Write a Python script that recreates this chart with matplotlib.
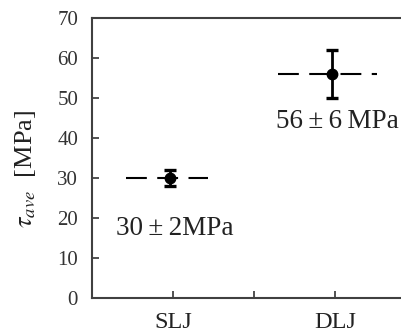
import matplotlib
matplotlib.use("Agg")
import matplotlib.pyplot as plt

categories = ["SLJ", "DLJ"]
means = [30, 56]
errors = [2, 6]
labels = ["30\u2009\u00b1\u20092MPa", "56\u2009\u00b1\u20096\u2009MPa"]
label_y = [15.8, 42.5]
yticks = [0, 10, 20, 30, 40, 50, 60, 70]

plt.rcParams["mathtext.fontset"] = "stix"
serif = ["Liberation Serif", "DejaVu Serif"]

fig = plt.figure(figsize=(4.02, 3.32), dpi=100)
ax = fig.add_axes([92/402, 1-298/332, (416.6-92)/402, (298-18)/332])

xs = [i + 1 for i in range(len(categories))]
pts = [x - 0.02 for x in xs]
spans = [(-0.27, 0.236), (-0.337, 0.275)]

for p, m, (a, b) in zip(pts, means, spans):
    ax.plot([p + a, p + b], [m, m], color="black", lw=1.5,
            linestyle=(0, (10.0, 5.0)), solid_capstyle="butt",
            dash_capstyle="butt", zorder=2)

ax.errorbar(pts, means, yerr=errors, fmt="o", color="black", ms=7.5,
            elinewidth=2.0, capsize=4.3, capthick=2.4, zorder=3)

for p, lab, ly in zip(pts, labels, label_y):
    ax.text(p + 0.03, ly, lab, ha="center", va="baseline",
            fontsize=19.5, family=serif, color="#222222")

ax.set_xlim(0.5, 2.5)
ax.set_ylim(0, 70)
ax.set_yticks(yticks)
ax.set_xticks(xs)
ax.set_xticklabels(categories, fontsize=17.5, family=serif, color="#222222")
ax.set_xticks([1.5], minor=True)
for t in ax.get_yticklabels():
    t.set_fontsize(15)
    t.set_family(serif)
    t.set_color("#333333")

ax.tick_params(axis="both", which="both", direction="in", length=5,
               width=1.2, color="#333333")
ax.tick_params(axis="x", pad=10)
ax.tick_params(axis="y", pad=10)

for s in ["left", "bottom", "top"]:
    ax.spines[s].set_color("#404040")
    ax.spines[s].set_linewidth(1.5)
ax.spines["right"].set_visible(False)

ax.set_ylabel(r"$\tau_{ave}$  [MPa]", fontsize=19, family=serif,
              color="#222222")
ax.yaxis.set_label_coords(-0.165, 0.46)

fig.savefig("out.png", dpi=100)
